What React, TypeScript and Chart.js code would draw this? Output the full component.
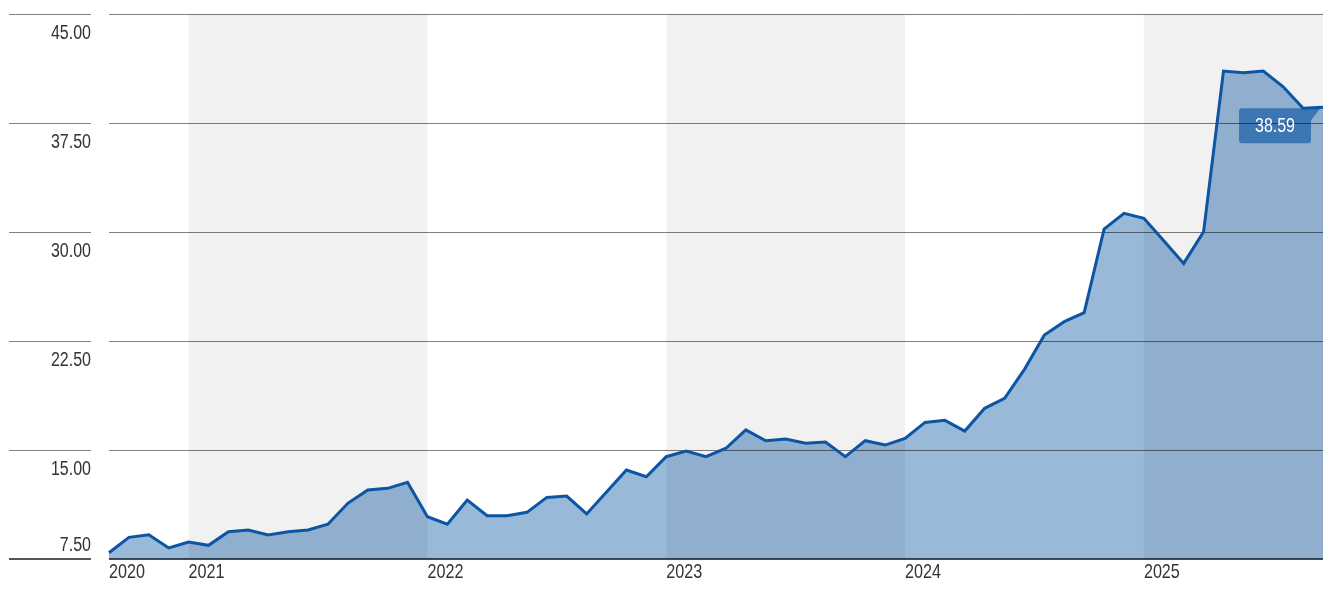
import React, { useEffect, useRef } from "react";
import Chart from "chart.js/auto";

const months = [
  "2020-09", "2020-10", "2020-11", "2020-12",
  "2021-01", "2021-02", "2021-03", "2021-04", "2021-05", "2021-06", "2021-07", "2021-08", "2021-09", "2021-10", "2021-11", "2021-12",
  "2022-01", "2022-02", "2022-03", "2022-04", "2022-05", "2022-06", "2022-07", "2022-08", "2022-09", "2022-10", "2022-11", "2022-12",
  "2023-01", "2023-02", "2023-03", "2023-04", "2023-05", "2023-06", "2023-07", "2023-08", "2023-09", "2023-10", "2023-11", "2023-12",
  "2024-01", "2024-02", "2024-03", "2024-04", "2024-05", "2024-06", "2024-07", "2024-08", "2024-09", "2024-10", "2024-11", "2024-12",
  "2025-01", "2025-02", "2025-03", "2025-04", "2025-05", "2025-06", "2025-07", "2025-08", "2025-09", "2025-10",
];

const values = [
  7.93, 8.99, 9.17, 8.26,
  8.67, 8.44, 9.38, 9.5, 9.15, 9.38, 9.5, 9.89, 11.33, 12.25, 12.36, 12.78,
  10.41, 9.89, 11.56, 10.48, 10.48, 10.71, 11.74, 11.83, 10.6, 12.11, 13.62, 13.16,
  14.54, 14.93, 14.54, 15.12, 16.38, 15.64, 15.76, 15.46, 15.55, 14.54, 15.64, 15.34,
  15.8, 16.9, 17.04, 16.3, 17.87, 18.56, 20.55, 22.91, 23.83, 24.45, 30.2, 31.28,
  30.94, 29.4, 27.84, 30.02, 41.07, 40.96, 41.07, 39.99, 38.51, 38.59,
];

const yTicks = [7.5, 15, 22.5, 30, 37.5, 45];
const yTickLabels = ["7.50", "15.00", "22.50", "30.00", "37.50", "45.00"];
const yearLabels = ["2020", "2021", "2022", "2023", "2024", "2025"];
const yearStarts = ["2020-09", "2021-01", "2022-01", "2023-01", "2024-01", "2025-01"];
const shadedYears = ["2021", "2023", "2025"];
const lastValueLabel = "38.59";

const FONT_FAMILY = '"Liberation Sans", Arial, sans-serif';

function drawText(ctx: CanvasRenderingContext2D, text: string, x: number, y: number, align: CanvasTextAlign, baseline: CanvasTextBaseline, squeeze: number) {
  ctx.save();
  ctx.translate(x, y);
  ctx.scale(squeeze, 1);
  ctx.textAlign = align;
  ctx.textBaseline = baseline;
  ctx.fillText(text, 0, 0);
  ctx.restore();
}

const decorPlugin = {
  id: "decor",
  beforeDatasetsDraw(chart: any) {
    const { ctx, chartArea: a, scales } = chart;
    const xs = scales.x;
    const ys = scales.y;
    ctx.save();
    // year bands (translucent overlay above the fill)
    ctx.fillStyle = "rgba(0,0,0,0.055)";
    yearStarts.forEach((s, i) => {
      if (!shadedYears.includes(yearLabels[i])) return;
      const x0 = xs.getPixelForValue(months.indexOf(s));
      const next = yearStarts[i + 1];
      const x1 = next ? xs.getPixelForValue(months.indexOf(next)) : a.right;
      ctx.fillRect(x0, a.top, x1 - x0, a.bottom - a.top);
    });

    // last value box
    const meta = chart.getDatasetMeta(0);
    const pt = meta.data[meta.data.length - 1];
    const right = pt.x - 12;
    const top = pt.y + 1;
    const w = 72;
    const h = 35;
    ctx.fillStyle = "#3d77b3";
    ctx.beginPath();
    (ctx as any).roundRect(right - w, top, w, h, 3);
    ctx.fill();
    ctx.beginPath();
    ctx.moveTo(right - 10, top);
    ctx.lineTo(pt.x - 1, pt.y - 1);
    ctx.lineTo(right, top + 12);
    ctx.closePath();
    ctx.fill();

    // gridlines
    yTicks.forEach((t, i) => {
      const gy = ys.getPixelForValue(t);
      if (i === 0) {
        ctx.lineWidth = 2;
        ctx.strokeStyle = "#555555";
        ctx.beginPath();
        ctx.moveTo(9, Math.round(gy));
        ctx.lineTo(91, Math.round(gy));
        ctx.stroke();
        ctx.strokeStyle = "rgba(30,45,60,0.85)";
        ctx.beginPath();
        ctx.moveTo(a.left, Math.round(gy));
        ctx.lineTo(a.right, Math.round(gy));
        ctx.stroke();
      } else {
        const yy = Math.round(gy) + 0.5;
        ctx.lineWidth = 1;
        ctx.strokeStyle = "rgba(0,0,0,0.5)";
        ctx.beginPath();
        ctx.moveTo(9, yy);
        ctx.lineTo(91, yy);
        ctx.moveTo(a.left, yy);
        ctx.lineTo(a.right, yy);
        ctx.stroke();
      }
    });
    ctx.restore();
  },
  afterDatasetsDraw(chart: any) {
    const { ctx, chartArea: a, scales } = chart;
    const xs = scales.x;
    const ys = scales.y;
    ctx.save();
    // y labels
    ctx.fillStyle = "#333333";
    ctx.font = `20px ${FONT_FAMILY}`;
    yTicks.forEach((t, i) => {
      const gy = ys.getPixelForValue(t);
      const by = i === 0 ? gy - 8 : gy + 25;
      drawText(ctx, yTickLabels[i], 91, by, "right", "alphabetic", 0.8);
    });
    // x labels
    ctx.font = `21px ${FONT_FAMILY}`;
    yearStarts.forEach((s, i) => {
      const px = xs.getPixelForValue(months.indexOf(s));
      drawText(ctx, yearLabels[i], px, a.bottom + 19, "left", "alphabetic", 0.77);
    });
    // last value text
    const meta = chart.getDatasetMeta(0);
    const pt = meta.data[meta.data.length - 1];
    const right = pt.x - 12;
    const top = pt.y + 1;
    ctx.fillStyle = "#ffffff";
    ctx.font = `20px ${FONT_FAMILY}`;
    drawText(ctx, lastValueLabel, right - 36, top + 18, "center", "middle", 0.8);
    ctx.restore();
  },
};

export default function App() {
  const ref = useRef<HTMLCanvasElement | null>(null);
  useEffect(() => {
    if (!ref.current) return;
    const chart = new Chart(ref.current, {
      type: "line",
      data: {
        labels: months,
        datasets: [
          {
            data: values,
            borderColor: "#0b55a3",
            borderWidth: 3,
            backgroundColor: "#99b9d9",
            fill: "start",
            pointRadius: 0,
            pointHoverRadius: 0,
            tension: 0,
          },
        ],
      },
      options: {
        animation: false,
        responsive: false,
        maintainAspectRatio: false,
        events: [],
        layout: { padding: { left: 109, right: 15, top: 14, bottom: 42 } },
        scales: {
          x: { type: "category", display: false, offset: false },
          y: { display: false, min: 7.5, max: 45 },
        },
        plugins: {
          legend: { display: false },
          tooltip: { enabled: false },
          filler: { drawTime: "beforeDatasetsDraw" },
        } as any,
      },
      plugins: [decorPlugin],
    });
    return () => chart.destroy();
  }, []);
  return (
    <div style={{ position: "fixed", left: 0, top: 0, width: 1338, height: 601, background: "#fff" }}>
      <canvas ref={ref} width={1338} height={601} style={{ width: 1338, height: 601, display: "block" }} />
    </div>
  );
}
